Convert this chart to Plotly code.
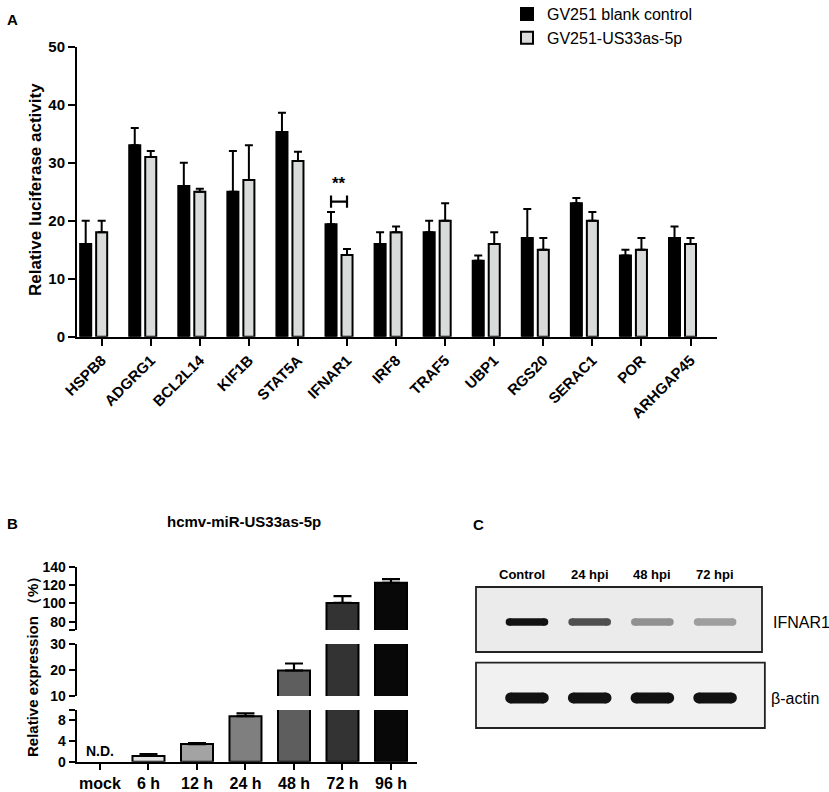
import plotly.graph_objects as go

W, H = 829, 792
FONT = "Arial, 'Liberation Sans', sans-serif"

# ---------------- Panel A data ----------------
genes = ["HSPB8", "ADGRG1", "BCL2L14", "KIF1B", "STAT5A", "IFNAR1", "IRF8",
         "TRAF5", "UBP1", "RGS20", "SERAC1", "POR", "ARHGAP45"]
control = [16, 33, 26, 25, 35.3, 19.4, 16, 18, 13.1, 17, 23, 14, 17]
control_sd = [4, 3, 4, 7, 3.3, 2.1, 2, 2, 0.9, 5, 0.9, 1, 2]
us33 = [18, 31, 25, 27, 30.3, 14.1, 18, 20, 16, 15, 20, 15, 16]
us33_sd = [2, 1, 0.5, 6, 1.6, 1, 1, 3, 2, 2, 1.5, 2, 1]
sig_index = 5
sig_text = "**"

# ---------------- Panel B data ----------------
times = ["mock", "6 h", "12 h", "24 h", "48 h", "72 h", "96 h"]
expr = [None, 1.1, 3.4, 8.8, 19.8, 100.5, 122.5]
expr_sd = [None, 0.35, 0.2, 0.55, 2.7, 7.5, 4.0]
expr_colors = ["#ffffff", "#e3e3e3", "#a3a3a3", "#7f7f7f", "#5e5e5e", "#333333", "#080808"]

# ---------------- Panel C data ----------------
lanes = ["Control", "24 hpi", "48 hpi", "72 hpi"]
ifnar1_intensity = [1.0, 0.72, 0.42, 0.36]
actin_intensity = [1.0, 1.0, 1.0, 1.0]


def dx(a, b):
    return [a / W, b / W]


def dy(top, bottom):
    return [1 - bottom / H, 1 - top / H]


def px(x):
    return x / W


def py(y):
    return 1 - y / H


def gray(v):
    g = int(round(236 - v * (236 - 18)))
    return "#%02x%02x%02x" % (g, g, g)


fig = go.Figure()
n = len(genes)
idx = list(range(n))
off = 0.326
bw = 0.225

fig.add_trace(go.Bar(
    x=[i - off for i in idx], y=control, width=bw, name="GV251 blank control",
    marker=dict(color="black", line=dict(color="black", width=2)),
    error_y=dict(type="data", array=control_sd, arrayminus=[0] * n, symmetric=False,
                 thickness=2, width=4, color="black"),
    xaxis="x", yaxis="y", hoverinfo="skip"))
fig.add_trace(go.Bar(
    x=idx, y=us33, width=bw, name="GV251-US33as-5p",
    marker=dict(color="#d9dbda", line=dict(color="black", width=2)),
    error_y=dict(type="data", array=us33_sd, arrayminus=[0] * n, symmetric=False,
                 thickness=2, width=4, color="black"),
    xaxis="x", yaxis="y", hoverinfo="skip"))

# significance bracket
top = max(control[sig_index] + control_sd[sig_index], us33[sig_index] + us33_sd[sig_index]) + 1.8
xl, xr = sig_index - off, sig_index
fig.add_trace(go.Scatter(
    x=[xl, xl, None, xl, xr, None, xr, xr],
    y=[top - 1.05, top + 1.05, None, top, top, None, top - 1.05, top + 1.05],
    mode="lines", line=dict(color="black", width=2.2), showlegend=False,
    xaxis="x", yaxis="y", hoverinfo="skip"))

# ---------------- Panel B bars (three broken segments) ----------------
bx = [i for i, v in enumerate(expr) if v is not None]
by = [v for v in expr if v is not None]
bsd = [v for v in expr_sd if v is not None]
bcol = [expr_colors[i] for i in bx]
for ya in ["y2", "y3", "y4"]:
    fig.add_trace(go.Bar(
        x=bx, y=by, width=0.66,
        marker=dict(color=bcol, line=dict(color="black", width=2)),
        error_y=dict(type="data", array=bsd, arrayminus=[0] * len(bsd), symmetric=False,
                     thickness=2.2, width=9, color="black"),
        showlegend=False, xaxis="x2", yaxis=ya, hoverinfo="skip"))

# ---------------- Panel C blot bands ----------------
for i, v in enumerate(ifnar1_intensity):
    c = gray(v)
    fig.add_trace(go.Scatter(
        x=[i - 0.28, i + 0.28], y=[0.46, 0.46], mode="lines+markers",
        line=dict(color=c, width=7.5), marker=dict(color=c, size=7.5),
        showlegend=False, xaxis="x3", yaxis="y5", hoverinfo="skip"))
for i, v in enumerate(actin_intensity):
    c = gray(v)
    fig.add_trace(go.Scatter(
        x=[i - 0.26, i + 0.26], y=[0.46, 0.46], mode="lines+markers",
        line=dict(color=c, width=11), marker=dict(color=c, size=11),
        showlegend=False, xaxis="x3", yaxis="y6", hoverinfo="skip"))

axis_common = dict(showline=True, linecolor="black", linewidth=2, ticks="outside",
                   tickcolor="black", tickwidth=2, showgrid=False, zeroline=False,
                   fixedrange=True, automargin=False)

fig.update_layout(
    width=W, height=H, margin=dict(l=0, r=0, t=0, b=0, autoexpand=False),
    paper_bgcolor="white", plot_bgcolor="white",
    barmode="overlay", bargap=0,
    font=dict(family=FONT, color="black"),
    showlegend=True,
    legend=dict(x=px(507), y=py(-3), xanchor="left", yanchor="top",
                font=dict(size=16, family=FONT), bgcolor="rgba(0,0,0,0)",
                tracegroupgap=0),
    xaxis=dict(domain=dx(77, 717), range=[-0.503, 12.54], anchor="y",
               tickvals=idx, ticktext=genes, tickangle=-45, ticklen=7,
               tickfont=dict(size=15, weight="bold"), **axis_common),
    yaxis=dict(domain=dy(46.7, 336.7), range=[0, 50], anchor="x",
               tickvals=[0, 10, 20, 30, 40, 50], ticklen=7,
               tickfont=dict(size=15, weight="bold"), **axis_common),
    xaxis2=dict(domain=dx(76.7, 416.7), range=[-0.48, 6.53], anchor="y2",
                tickvals=list(range(len(times))), ticktext=times, ticklen=6,
                tickfont=dict(size=16, weight="bold"), **axis_common),
    yaxis2=dict(domain=dy(710, 761.7), range=[0, 10], anchor="x2",
                tickvals=[0, 4, 8, 10], ticktext=["0", "4", "8", ""], ticklen=6,
                tickfont=dict(size=14, weight="bold"), **axis_common),
    yaxis3=dict(domain=dy(644, 696), range=[10, 30], anchor="x2",
                tickvals=[10, 20, 30], ticklen=6,
                tickfont=dict(size=14, weight="bold"), **axis_common),
    yaxis4=dict(domain=dy(566.7, 630), range=[71, 140], anchor="x2",
                tickvals=[71, 80, 100, 120, 140], ticktext=["", "80", "100", "120", "140"],
                ticklen=6, tickfont=dict(size=14, weight="bold"), **axis_common),
    xaxis3=dict(domain=dx(476, 762), range=[-0.813, 3.748], anchor="y5", visible=False,
                fixedrange=True, automargin=False),
    yaxis5=dict(domain=dy(587, 652), range=[0, 1], anchor="x3", visible=False,
                fixedrange=True, automargin=False),
    yaxis6=dict(domain=dy(662.7, 728), range=[0, 1], anchor="x3", visible=False,
                fixedrange=True, automargin=False),
)

# blot frames
fig.add_shape(type="rect", xref="x3 domain", yref="y5 domain", x0=0, x1=1, y0=0, y1=1,
              fillcolor="#ebebeb", line=dict(color="#222222", width=1.8), layer="below")
fig.add_shape(type="rect", xref="x3 domain", yref="y6 domain", x0=0, x1=1.01, y0=0, y1=1,
              fillcolor="#f1f1f1", line=dict(color="#222222", width=1.8), layer="below")

ann = []


def text(x, y, s, size, bold=False, angle=0, xanchor="center", yanchor="middle", **kw):
    ann.append(dict(x=x, y=y, xref=kw.pop("xref", "paper"), yref=kw.pop("yref", "paper"),
                    text=s, showarrow=False, textangle=angle,
                    xanchor=xanchor, yanchor=yanchor,
                    font=dict(size=size, family=FONT, color="black",
                              weight="bold" if bold else "normal"), **kw))


text(px(5), py(19), "A", 15, True, xanchor="left")
text(px(5), py(523), "B", 15, True, xanchor="left")
text(px(471), py(524), "C", 15, True, xanchor="left")
text(px(36), py(190), "Relative luciferase activity", 17, True, angle=-90)
text(px(32), py(663), "Relative expression （%）", 15, True, angle=-90)
text(px(244), py(521), "hcmv-miR-US33as-5p", 15, True)
text(sig_index - off / 2, top + 1.2, sig_text, 17, True, yanchor="bottom", xref="x", yref="y")
text(0, 0, "N.D.", 14, True, yanchor="bottom", xref="x2", yref="y2", yshift=1)
for i, lab in enumerate(lanes):
    text(i - (0.08 if i == 0 else 0), py(574), lab, 13, True, xref="x3")
text(px(801.7), py(622), "IFNAR1", 16)
text(px(795), py(698), "β-actin", 16)

fig.update_layout(annotations=ann)
fig.write_html("out.html", config={"displayModeBar": False, "staticPlot": True},
               post_script="document.body.style.margin='0';document.body.style.overflow='hidden';")
